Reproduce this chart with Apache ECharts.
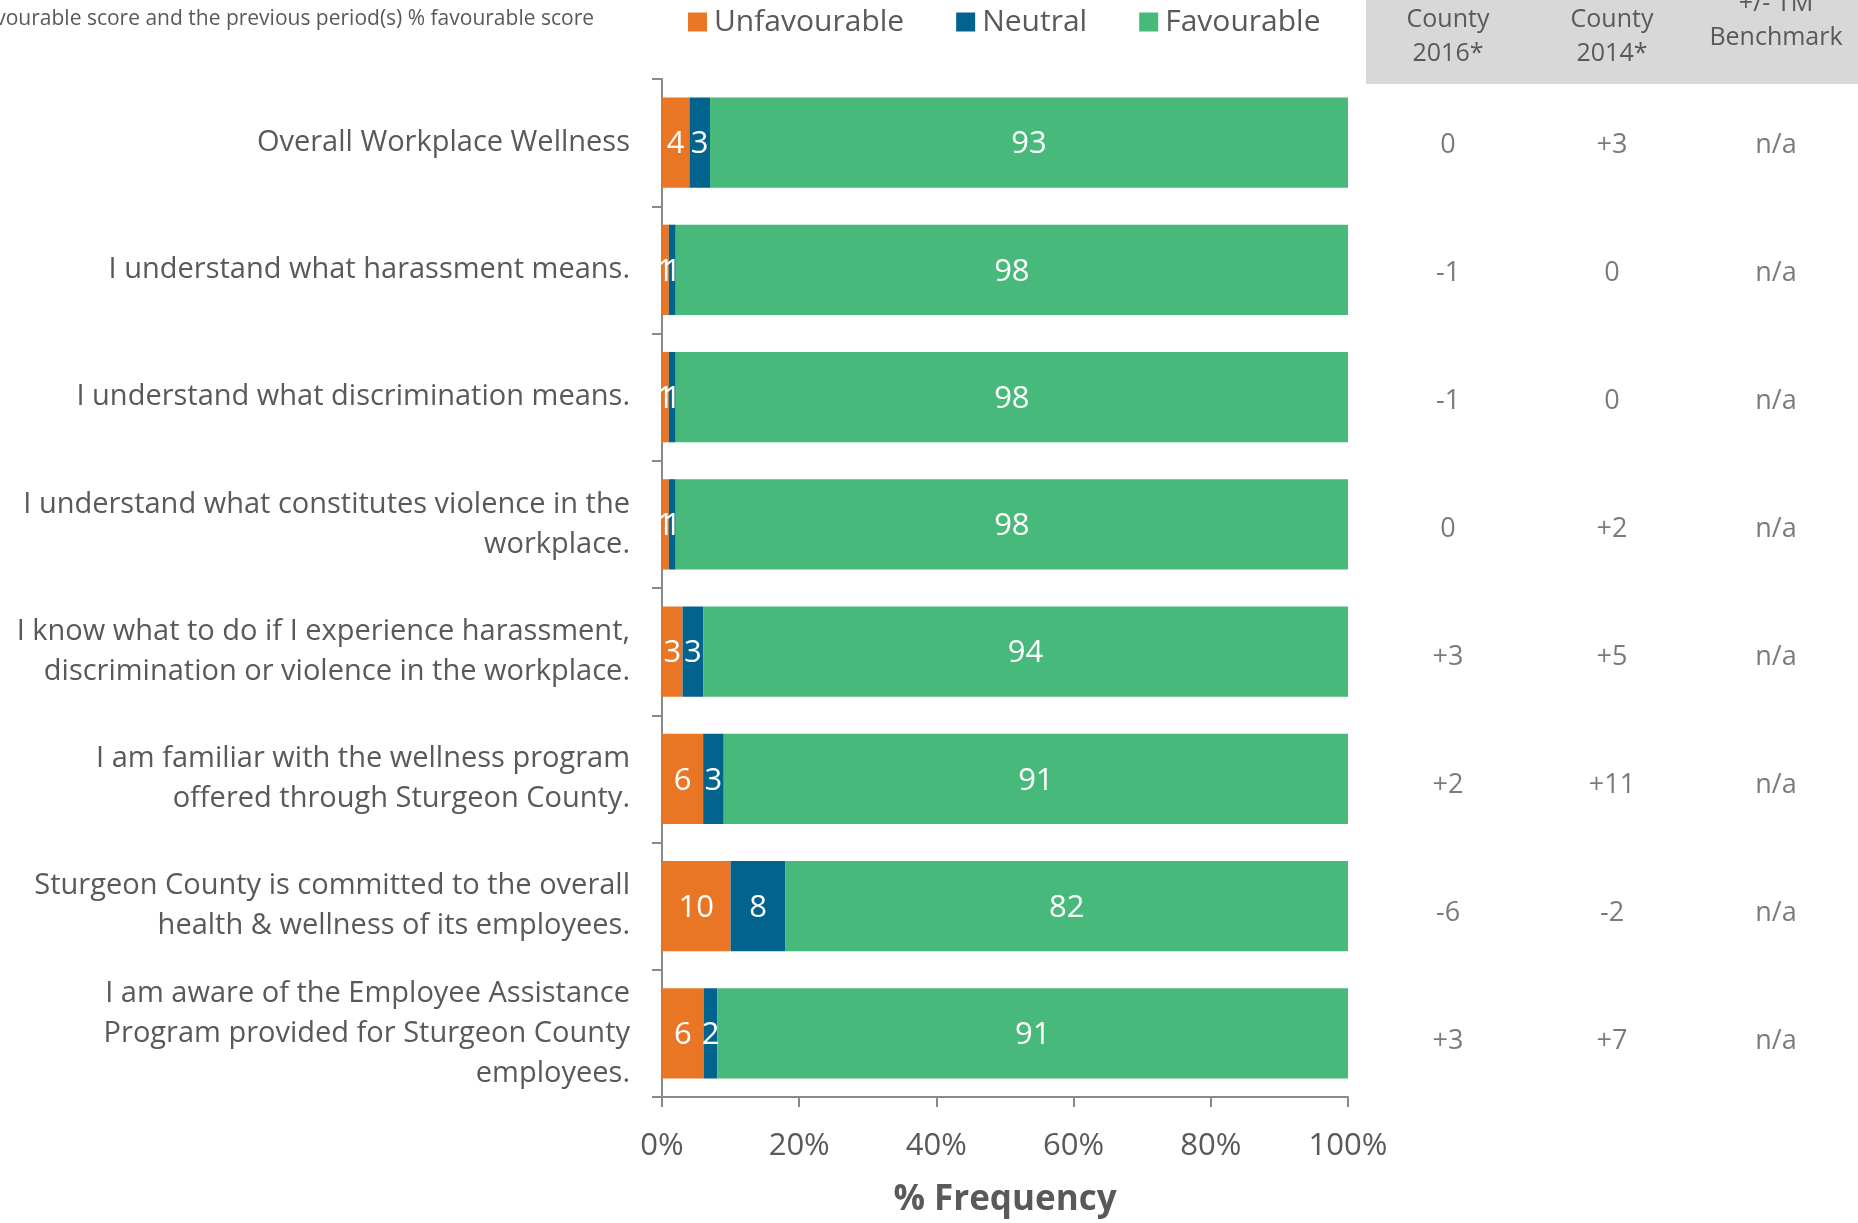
<!DOCTYPE html>
<html>
<head>
<meta charset="utf-8">
<script src="https://cdn.jsdelivr.net/npm/echarts@6/dist/echarts.min.js"></script>
<style>
  html, body { margin: 0; padding: 0; background: #fff; }
  #chart { width: 1858px; height: 1223px; }
</style>
</head>
<body>
<div id="chart"></div>
<script>
// Survey items (top to bottom)
const questions = [
  'Overall Workplace Wellness',
  'I understand what harassment means.',
  'I understand what discrimination means.',
  'I understand what constitutes violence in the\nworkplace.',
  'I know what to do if I experience harassment,\ndiscrimination or violence in the workplace.',
  'I am familiar with the wellness program\noffered through Sturgeon County.',
  'Sturgeon County is committed to the overall\nhealth & wellness of its employees.',
  'I am aware of the Employee Assistance\nProgram provided for Sturgeon County\nemployees.'
];

// Response shares (%)
const unfavourable = [4, 1, 1, 1, 3, 6, 10, 6];
const neutral      = [3, 1, 1, 1, 3, 3, 8, 2];
const favourable   = [93, 98, 98, 98, 94, 91, 82, 91];

// Change in % favourable versus earlier periods / benchmark
const vsCounty2016 = [0, -1, -1, 0, 3, 2, -6, 3];
const vsCounty2014 = [3, 0, 0, 2, 5, 11, -2, 7];
const vsBenchmark  = ['n/a', 'n/a', 'n/a', 'n/a', 'n/a', 'n/a', 'n/a', 'n/a'];

const tableColumns = ['County\n2016*', 'County\n2014*', '+/- TM\nBenchmark'];
const xTicks = [0, 20, 40, 60, 80, 100];

const COLORS = { unfav: '#E97625', neutral: '#02638F', fav: '#47B97A' };
const TEXT = '#595959';
const AXIS = '#8A8A8A';
const FONT = 'Open Sans';

// 100% stacked: each segment is its share of the row total
function stackedShare(values, i) {
  const total = unfavourable[i] + neutral[i] + favourable[i];
  return { value: values[i] / total * 100, raw: values[i] };
}
function seriesData(values) {
  return values.map((v, i) => stackedShare(values, i));
}
function signed(v) {
  if (typeof v !== 'number') return v;
  return v > 0 ? '+' + v : String(v);
}

const tableData = [];
questions.forEach((q, r) => {
  tableData.push([0, r, signed(vsCounty2016[r])]);
  tableData.push([1, r, signed(vsCounty2014[r])]);
  tableData.push([2, r, signed(vsBenchmark[r])]);
});

const barLabel = {
  show: true,
  position: 'inside',
  offset: [0, 2],
  color: '#fff',
  fontFamily: FONT,
  fontSize: 31,
  formatter: p => p.data.raw
};

const chart = echarts.init(document.getElementById('chart'), null, { renderer: 'canvas' });

const option = {
  animation: false,
  textStyle: { fontFamily: FONT, color: TEXT },
  legend: {
    left: 683,
    top: 2,
    itemWidth: 19,
    itemHeight: 19,
    itemGap: 52,
    icon: 'rect',
    textStyle: { fontFamily: FONT, fontSize: 30, color: TEXT, padding: [0, 0, 0, 2] },
    data: ['Unfavourable', 'Neutral', 'Favourable']
  },
  grid: [
    { left: 662, right: 510, top: 79, bottom: 120 },
    { left: 1366, right: 0, top: 79, bottom: 120 }
  ],
  xAxis: [
    {
      gridIndex: 0,
      type: 'value',
      min: 0,
      max: 100,
      interval: 20,
      axisLine: { show: true, lineStyle: { color: AXIS, width: 2 } },
      axisTick: { show: true, length: 10, lineStyle: { color: AXIS, width: 2 } },
      splitLine: { show: false },
      axisLabel: {
        margin: 34,
        fontFamily: FONT,
        fontSize: 31,
        color: TEXT,
        formatter: v => xTicks.indexOf(v) >= 0 ? v + '%' : ''
      },
      name: '% Frequency',
      nameLocation: 'middle',
      nameGap: 86,
      nameTextStyle: { fontFamily: FONT, fontSize: 35, fontWeight: 'bold', color: TEXT }
    },
    {
      gridIndex: 1,
      type: 'category',
      data: tableColumns,
      show: false
    }
  ],
  yAxis: [
    {
      gridIndex: 0,
      type: 'category',
      inverse: true,
      data: questions,
      axisLine: { show: true, lineStyle: { color: AXIS, width: 2 } },
      axisTick: { show: true, length: 10, lineStyle: { color: AXIS, width: 2 } },
      axisLabel: {
        margin: 32,
        fontFamily: FONT,
        fontSize: 29,
        lineHeight: 40,
        color: TEXT,
        align: 'right'
      }
    },
    {
      gridIndex: 1,
      type: 'category',
      inverse: true,
      data: questions,
      show: false
    }
  ],
  series: [
    {
      name: 'Unfavourable',
      type: 'bar',
      stack: 'share',
      barWidth: '71%',
      itemStyle: { color: COLORS.unfav },
      label: barLabel,
      data: seriesData(unfavourable)
    },
    {
      name: 'Neutral',
      type: 'bar',
      stack: 'share',
      barWidth: '71%',
      itemStyle: { color: COLORS.neutral },
      label: barLabel,
      data: seriesData(neutral)
    },
    {
      name: 'Favourable',
      type: 'bar',
      stack: 'share',
      barWidth: '71%',
      itemStyle: { color: COLORS.fav },
      label: barLabel,
      data: seriesData(favourable)
    },
    {
      name: 'Comparison',
      type: 'scatter',
      xAxisIndex: 1,
      yAxisIndex: 1,
      symbolSize: 0,
      silent: true,
      label: {
        show: true,
        position: 'inside',
        offset: [0, 2],
        fontFamily: FONT,
        fontSize: 27,
        color: TEXT,
        formatter: p => p.value[2]
      },
      data: tableData
    }
  ],
  graphic: [
    {
      type: 'text',
      right: 1858 - 594,
      top: 9,
      style: {
        text: 'vourable score and the previous period(s) % favourable score',
        fontFamily: FONT,
        fontSize: 21,
        fill: TEXT
      }
    },
    {
      type: 'rect',
      left: 1366,
      top: 0,
      shape: { width: 492, height: 84 },
      style: { fill: '#D9D8D9' },
      z: -1
    },
    {
      type: 'text',
      x: 1448, y: 37,
      style: { text: tableColumns[0], fontFamily: FONT, fontSize: 25, lineHeight: 34, fill: TEXT, align: 'center', verticalAlign: 'middle' }
    },
    {
      type: 'text',
      x: 1612, y: 37,
      style: { text: tableColumns[1], fontFamily: FONT, fontSize: 25, lineHeight: 34, fill: TEXT, align: 'center', verticalAlign: 'middle' }
    },
    {
      type: 'text',
      x: 1776, y: 21,
      style: { text: tableColumns[2], fontFamily: FONT, fontSize: 25, lineHeight: 34, fill: TEXT, align: 'center', verticalAlign: 'middle' }
    }
  ]
};

chart.setOption(option);
</script>
</body>
</html>
